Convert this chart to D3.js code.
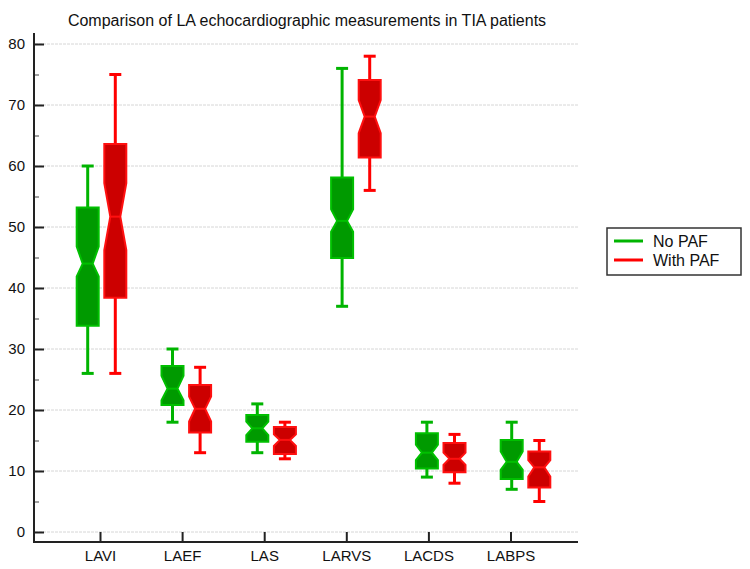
<!DOCTYPE html>
<html>
<head>
<meta charset="utf-8">
<script src="https://cdn.jsdelivr.net/npm/d3@7"></script>
<style>
  html, body { margin: 0; padding: 0; background: #fff; }
  text { font-family: "Liberation Sans", Arial, sans-serif; fill: #111; }
</style>
</head>
<body>
<svg id="chart" width="750" height="569"></svg>
<script>
// ---- data ----
const categories = ["LAVI", "LAEF", "LAS", "LARVS", "LACDS", "LABPS"];
const seriesNames = ["No PAF", "With PAF"];
const yTicks = [0, 10, 20, 30, 40, 50, 60, 70, 80];
const yMinorTicks = [5, 15, 25, 35, 45, 55, 65, 75];

// No PAF
const noPafMin      = [26, 18, 13, 37, 9, 7];
const noPafQ1       = [33.8, 20.8, 14.8, 44.9, 10.4, 8.7];
const noPafNotchLo  = [41.9, 21.6, 15.9, 49.2, 11.8, 10.2];
const noPafMedian   = [44.0, 23.5, 17.0, 51.0, 13.0, 11.5];
const noPafNotchHi  = [46.8, 25.6, 18.1, 52.9, 14.3, 13.2];
const noPafQ3       = [53.2, 27.2, 19.2, 58.1, 16.2, 15.1];
const noPafMax      = [60, 30, 21, 76, 18, 18];

// With PAF
const withPafMin     = [26, 13, 12, 56, 8, 5];
const withPafQ1      = [38.4, 16.3, 12.8, 61.4, 9.8, 7.3];
const withPafNotchLo = [46.2, 18.1, 14.1, 65.4, 11.0, 9.1];
const withPafMedian  = [51.7, 20.2, 15.1, 68.1, 12.0, 10.6];
const withPafNotchHi = [57.2, 22.2, 16.0, 70.8, 13.0, 11.8];
const withPafQ3      = [63.6, 24.1, 17.2, 74.1, 14.6, 13.2];
const withPafMax     = [75, 27, 18, 78, 16, 15];

const seriesData = [
  { name: seriesNames[0], min: noPafMin, q1: noPafQ1, nlo: noPafNotchLo, med: noPafMedian, nhi: noPafNotchHi, q3: noPafQ3, max: noPafMax,
    fill: "#009a00", edge: "#00c000", whisk: "#00b400" },
  { name: seriesNames[1], min: withPafMin, q1: withPafQ1, nlo: withPafNotchLo, med: withPafMedian, nhi: withPafNotchHi, q3: withPafQ3, max: withPafMax,
    fill: "#cc0000", edge: "#ff1010", whisk: "#ff0000" }
];

// ---- layout ----
const svg = d3.select("#chart");
const axisX = 34, axisBottom = 542, plotRight = 578, axisTop = 33;

const y = d3.scaleLinear().domain([0, 80]).range([532, 44]);
const xTick = d3.scalePoint().domain(categories).range([100, 510.5]);
const xBox = d3.scalePoint().domain(categories).range([87.7, 511.7]);
const xSeries = d3.scalePoint().domain(seriesNames).range([0, 27.6]);

// gridlines
svg.append("g").selectAll("line").data(yTicks).join("line")
  .attr("x1", axisX + 1).attr("x2", plotRight)
  .attr("y1", d => y(d)).attr("y2", d => y(d))
  .attr("stroke", "#d6d6d6").attr("stroke-width", 1)
  .attr("stroke-dasharray", "3,1");

// title
svg.append("text")
  .attr("x", 307).attr("y", 26)
  .attr("text-anchor", "middle")
  .style("font-size", "16px")
  .text("Comparison of LA echocardiographic measurements in TIA patients");

// boxes
const boxW = 22, inset = 6, capW = 10;
seriesData.forEach(s => {
  const g = svg.append("g");
  categories.forEach((c, i) => {
    const cx = xBox(c) + xSeries(s.name);
    const l = cx - boxW / 2, r = cx + boxW / 2;
    // whiskers
    [[y(s.max[i]), y(s.q3[i])], [y(s.q1[i]), y(s.min[i])]].forEach(([a, b]) =>
      g.append("line").attr("x1", cx).attr("x2", cx).attr("y1", a).attr("y2", b)
        .attr("stroke", s.whisk).attr("stroke-width", 3));
    [s.max[i], s.min[i]].forEach(v => g.append("line")
      .attr("x1", cx - capW / 2 - 1).attr("x2", cx + capW / 2 + 1)
      .attr("y1", y(v)).attr("y2", y(v))
      .attr("stroke", s.whisk).attr("stroke-width", 3));
    // notched box
    const pts = [
      [l, y(s.q3[i])], [r, y(s.q3[i])], [r, y(s.nhi[i])], [r - inset, y(s.med[i])],
      [r, y(s.nlo[i])], [r, y(s.q1[i])], [l, y(s.q1[i])], [l, y(s.nlo[i])],
      [l + inset, y(s.med[i])], [l, y(s.nhi[i])]
    ];
    g.append("polygon").attr("points", pts.map(p => p.join(",")).join(" "))
      .attr("fill", s.fill).attr("stroke", s.edge).attr("stroke-width", 2)
      .attr("stroke-linejoin", "miter");
    g.append("line").attr("x1", l + inset).attr("x2", r - inset)
      .attr("y1", y(s.med[i])).attr("y2", y(s.med[i]))
      .attr("stroke", s.edge).attr("stroke-width", 2);
  });
});

// y axis
const yAxisG = svg.append("g").attr("transform", `translate(${axisX},0)`);
yAxisG.call(d3.axisLeft(y).tickValues(yTicks).tickSize(-10).tickPadding(9).tickFormat(d3.format("d")));
yAxisG.select(".domain").remove();
yAxisG.selectAll(".tick line").attr("stroke", "#222").attr("stroke-width", 2);
yAxisG.selectAll(".tick text").style("font-size", "15px").attr("fill", "#111").attr("x", -9);
const yMinor = svg.append("g").attr("transform", `translate(${axisX},0)`);
yMinor.call(d3.axisLeft(y).tickValues(yMinorTicks).tickSize(-5).tickFormat(""));
yMinor.select(".domain").remove();
yMinor.selectAll(".tick line").attr("stroke", "#444").attr("stroke-width", 1);

svg.append("line").attr("x1", axisX).attr("x2", axisX).attr("y1", axisTop).attr("y2", axisBottom + 1)
  .attr("stroke", "#222").attr("stroke-width", 2);

// x axis
const xAxisG = svg.append("g").attr("transform", `translate(0,${axisBottom})`);
xAxisG.call(d3.axisBottom(xTick).tickSize(-10).tickPadding(8));
xAxisG.select(".domain").remove();
xAxisG.selectAll(".tick line").attr("stroke", "#222").attr("stroke-width", 2);
xAxisG.selectAll(".tick text").style("font-size", "15px").attr("fill", "#111");
svg.append("line").attr("x1", axisX - 1).attr("x2", plotRight).attr("y1", axisBottom).attr("y2", axisBottom)
  .attr("stroke", "#222").attr("stroke-width", 2);

// legend
const lg = svg.append("g");
lg.append("rect").attr("x", 607).attr("y", 228).attr("width", 134).attr("height", 47)
  .attr("fill", "#fff").attr("stroke", "#333").attr("stroke-width", 1.5);
seriesData.forEach((s, i) => {
  const ly = 241 + i * 19;
  lg.append("line").attr("x1", 614).attr("x2", 643).attr("y1", ly).attr("y2", ly)
    .attr("stroke", s.whisk).attr("stroke-width", 3);
  lg.append("text").attr("x", 653).attr("y", ly + 5.5).style("font-size", "16px").text(s.name);
});
</script>
</body>
</html>
